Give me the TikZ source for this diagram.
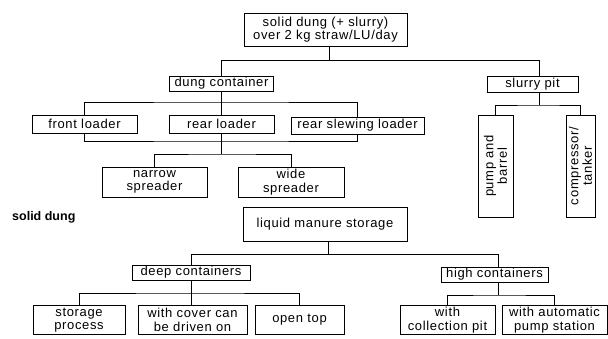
\documentclass[tikz,border=0pt]{standalone}
\usepackage{fontspec}
\setmainfont{Liberation Sans}[LetterSpace=5]
\newfontfamily\lblfont{Liberation Sans}
\begin{document}
\begin{tikzpicture}[x=1pt,y=-1pt,
  box/.style={draw,line width=0.9pt,inner sep=0pt,align=center,font=\fontsize{13}{13.5}\selectfont},
  conn/.style={line width=0.8pt},
  lbl/.style={inner sep=0pt,font=\lblfont\fontsize{12.5}{13}\selectfont\bfseries}]
\useasboundingbox (0,0) rectangle (608,338);
% nodes
\node[box,minimum width=163,minimum height=33] (top) at (325.5,29.5) {solid dung (+ slurry)\\over 2 kg straw/LU/day};
\node[box,minimum width=104,minimum height=15] (dung) at (221.5,83.5) {dung container};
\node[box,minimum width=91,minimum height=16] (slurry) at (532.5,84) {slurry pit};
\node[box,minimum width=105,minimum height=18] (front) at (84.5,124) {front loader};
\node[box,minimum width=105,minimum height=18] (rear) at (221.5,124) {rear loader};
\node[box,minimum width=133,minimum height=17] (slew) at (357.5,125.5) {rear slewing loader};
\node[box,minimum width=105,minimum height=30] (narrow) at (154.5,182) {narrow\\spreader};
\node[box,minimum width=106,minimum height=30] (wide) at (291,182) {wide\\spreader};
\node[box,rotate=90,minimum width=102,minimum height=35] (pump) at (495.5,166) {pump and\\barrel};
\node[box,rotate=90,minimum width=102,minimum height=29] (comp) at (580.5,166) {compressor/\\tanker};
\node[lbl,anchor=base west] (sd) at (12,220) {solid dung};
\node[box,minimum width=164,minimum height=34] (liquid) at (325,224) {liquid manure storage};
\node[box,minimum width=118,minimum height=15] (deep) at (191,272.5) {deep containers};
\node[box,minimum width=107,minimum height=15] (high) at (494.5,274.5) {high containers};
\node[box,minimum width=92,minimum height=29] (storage) at (79,320) {storage\\process};
\node[box,minimum width=109,minimum height=29] (cover) at (192.5,320) {with cover can\\be driven on};
\node[box,minimum width=89,minimum height=29] (opentop) at (299.5,320) {open top};
\node[box,minimum width=95,minimum height=29] (coll) at (447.5,320) {with\\collection pit};
\node[box,minimum width=105,minimum height=29] (auto) at (554.5,320) {with automatic\\pump station};
% junctions
\coordinate (t1) at (329,60);
\coordinate (s0) at (539,60);
\coordinate (d1) at (221.5,102);
\coordinate (l1) at (221.5,141);
\coordinate (l2) at (221.5,154);
\coordinate (s1) at (539,105);
\coordinate (q1) at (328,254);
\coordinate (h0) at (498,254);
\coordinate (e1) at (191,293);
\coordinate (h1) at (498,295);
% connectors
\draw[conn] (top.south -| t1) -- (t1);
\draw[conn] (dung.north) |- (s0) -- (slurry.north -| s0);
\draw[conn] (dung.south) -- (rear.north);
\draw[conn] (front.north) |- (d1) -| (slew.north);
\draw[conn] (front.south) |- (l1) -| (slew.south);
\draw[conn] (rear.south) -- (l2);
\draw[conn] (narrow.north) |- (l2) -| (wide.north);
\draw[conn] (slurry.south -| s1) -- (s1);
\draw[conn] (pump.east) |- (s1) -| (comp.east);
\draw[conn] (liquid.south -| q1) -- (q1);
\draw[conn] (deep.north) |- (h0) -- (high.north -| h0);
\draw[conn] (deep.south) -- (e1);
\draw[conn] (storage.north) |- (e1) -| (opentop.north);
\draw[conn] (e1) -- (cover.north -| e1);
\draw[conn] (high.south -| h1) -- (h1);
\draw[conn] (coll.north) |- (h1) -| (auto.north);
\end{tikzpicture}
\end{document}
